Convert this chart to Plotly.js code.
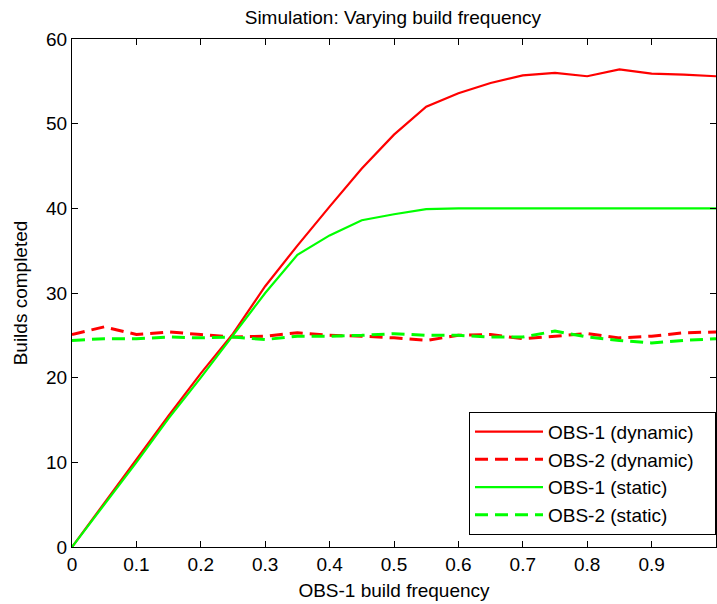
<!DOCTYPE html>
<html>
<head>
<meta charset="utf-8">
<script src="https://cdn.plot.ly/plotly-3.0.1.min.js"></script>
<style>html,body{margin:0;padding:0;background:#fff;}#chart{width:717px;height:604px;}</style>
</head>
<body>
<div id="chart"></div>
<script>
const freq = [0, 0.05, 0.1, 0.15, 0.2, 0.25, 0.3, 0.35, 0.4, 0.45, 0.5, 0.55, 0.6, 0.65, 0.7, 0.75, 0.8, 0.85, 0.9, 0.95, 1.0];
const obs1Dynamic = [0, 5.2, 10.4, 15.5, 20.5, 25.2, 30.8, 35.6, 40.2, 44.7, 48.7, 52.0, 53.6, 54.8, 55.7, 56.0, 55.6, 56.4, 55.9, 55.8, 55.6];
const obs2Dynamic = [25.1, 26.0, 25.1, 25.4, 25.1, 24.8, 24.9, 25.3, 25.0, 24.9, 24.7, 24.4, 25.0, 25.1, 24.6, 24.9, 25.2, 24.7, 24.9, 25.3, 25.4];
const obs1Static = [0, 5.0, 10.0, 15.2, 20.0, 25.0, 30.0, 34.5, 36.8, 38.6, 39.3, 39.9, 40.0, 40.0, 40.0, 40.0, 40.0, 40.0, 40.0, 40.0, 40.0];
const obs2Static = [24.4, 24.6, 24.6, 24.8, 24.7, 24.8, 24.5, 24.9, 24.9, 25.0, 25.2, 25.0, 25.0, 24.8, 24.8, 25.5, 24.8, 24.4, 24.1, 24.4, 24.6];
const seriesNames = ['OBS-1 (dynamic)', 'OBS-2 (dynamic)', 'OBS-1 (static)', 'OBS-2 (static)'];
const xTicks = [0, 0.1, 0.2, 0.3, 0.4, 0.5, 0.6, 0.7, 0.8, 0.9, 1];
const yTicks = [0, 10, 20, 30, 40, 50, 60];

const RED = '#ff0000', GREEN = '#00ff00';
const PAD = '\u00a0\u00a0\u00a0';
const traces = [
  {x: freq, y: obs1Dynamic, name: seriesNames[0] + PAD, mode: 'lines', line: {color: RED, width: 2.2}},
  {x: freq, y: obs2Dynamic, name: seriesNames[1] + PAD, mode: 'lines', line: {color: RED, width: 3, dash: '13px,7px'}},
  {x: freq, y: obs1Static, name: seriesNames[2] + PAD, mode: 'lines', line: {color: GREEN, width: 2.2}},
  {x: freq, y: obs2Static, name: seriesNames[3] + PAD, mode: 'lines', line: {color: GREEN, width: 3, dash: '13px,7px'}}
];
const fontFam = '"Liberation Sans", Arial, sans-serif';
const FS = 19;
const layout = {
  width: 717, height: 604,
  margin: {l: 72, r: 1, t: 39, b: 57},
  paper_bgcolor: '#fff', plot_bgcolor: '#fff',
  font: {family: fontFam, size: FS, color: '#000'},
  title: {text: 'Simulation: Varying build frequency', font: {family: fontFam, size: FS, color: '#000'}, x: 0.548, xanchor: 'center', y: 0.972, yanchor: 'middle'},
  xaxis: {
    range: [0, 1], tickvals: xTicks, ticktext: xTicks.map(String),
    showgrid: false, zeroline: false, showline: true, linecolor: '#000', linewidth: 1,
    mirror: 'ticks', ticks: 'inside', ticklen: 6, tickcolor: '#000',
    tickfont: {family: fontFam, size: FS},
    title: {text: 'OBS-1 build frequency', font: {family: fontFam, size: FS}, standoff: 9}
  },
  yaxis: {
    range: [0, 60], tickvals: yTicks, ticktext: yTicks.map(String),
    showgrid: false, zeroline: false, showline: true, linecolor: '#000', linewidth: 1,
    mirror: 'ticks', ticks: 'inside', ticklen: 6, tickcolor: '#000',
    tickfont: {family: fontFam, size: FS},
    title: {text: 'Builds completed', font: {family: fontFam, size: FS}, standoff: 13}
  },
  showlegend: true,
  legend: {
    x: 1, xanchor: 'right', y: 0.024, yanchor: 'bottom',
    bgcolor: '#fff', bordercolor: '#000', borderwidth: 1,
    font: {family: fontFam, size: FS}, tracegroupgap: 0, itemwidth: 68
  }
};
Plotly.newPlot('chart', traces, layout, {displayModeBar: false, staticPlot: true});
</script>
</body>
</html>
